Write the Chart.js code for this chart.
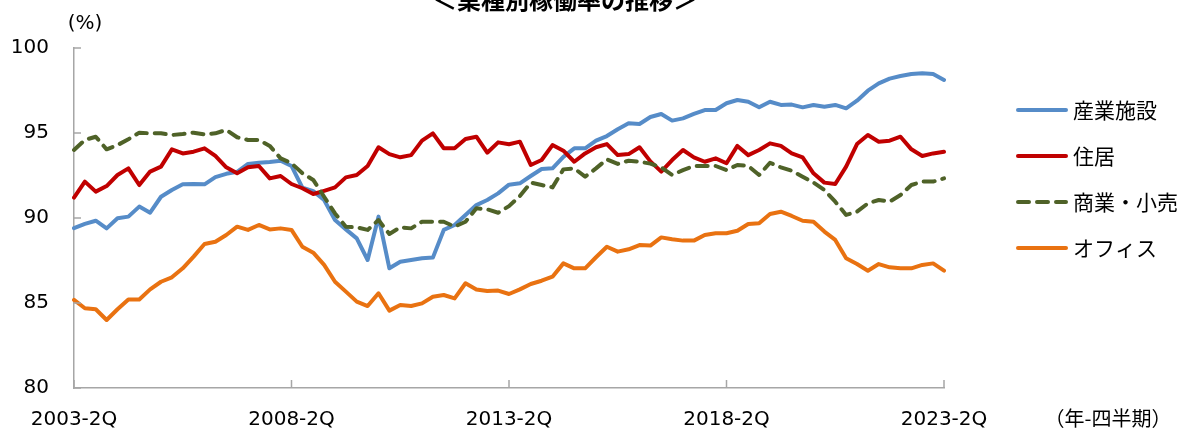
<!DOCTYPE html>
<html lang="ja">
<head>
<meta charset="utf-8">
<title>業種別稼働率の推移</title>
<script src="https://cdn.jsdelivr.net/npm/chart.js@4.4.1/dist/chart.umd.min.js"></script>
<style>
    html, body { margin: 0; padding: 0; background: #fff; }
    #chartBox { position: relative; width: 1196px; height: 430px; overflow: hidden; }
</style>
</head>
<body>
<div id="chartBox"><canvas id="rateChart" width="1196" height="430"></canvas></div>
<script>
const chartTitle = '＜業種別稼働率の推移＞';
const unitLabel = '(%)';
const periodLabel = '（年-四半期）';

// quarterly categories, 2003-2Q .. 2023-2Q
const startYear = 2003;
const startQuarter = 2;
const quarterCount = 81;
const quarters = [];
for (let i = 0; i < quarterCount; i++) {
    const q = startQuarter - 1 + i;
    quarters.push(`${startYear + Math.floor(q / 4)}-${q % 4 + 1}Q`);
}
const shownQuarters = ['2003-2Q', '2008-2Q', '2013-2Q', '2018-2Q', '2023-2Q'];
const yTicks = [80, 85, 90, 95, 100];

const seriesNames = ['産業施設', '住居', '商業・小売', 'オフィス'];

const industrial = [
    89.4, 89.65, 89.84, 89.39, 89.98, 90.08, 90.67, 90.31, 91.25, 91.65,
    91.98, 92.0, 91.98, 92.4, 92.6, 92.72, 93.18, 93.25, 93.3, 93.37,
    93.06, 91.78, 91.58, 91.06, 89.88, 89.33, 88.8, 87.53, 90.08, 87.04,
    87.43, 87.53, 87.63, 87.67, 89.3, 89.59, 90.18, 90.76, 91.06, 91.45,
    91.96, 92.04, 92.47, 92.88, 92.92, 93.6, 94.1, 94.1, 94.55, 94.82,
    95.22, 95.57, 95.53, 95.94, 96.12, 95.73, 95.86, 96.12, 96.35, 96.35,
    96.75, 96.94, 96.84, 96.51, 96.84, 96.65, 96.67, 96.51, 96.65, 96.55,
    96.65, 96.45, 96.9, 97.49, 97.92, 98.2, 98.35, 98.47, 98.51, 98.47,
    98.12
];
const residential = [
    91.2, 92.14, 91.55, 91.88, 92.53, 92.92, 91.94, 92.73, 93.02, 94.04,
    93.8, 93.9, 94.1, 93.65, 92.98, 92.63, 92.98, 93.06, 92.33, 92.47,
    92.0, 91.75, 91.41, 91.6, 91.8, 92.39, 92.53, 93.06, 94.16, 93.76,
    93.57, 93.7, 94.55, 94.98, 94.1, 94.1, 94.65, 94.78, 93.84, 94.45,
    94.34, 94.49, 93.12, 93.41, 94.29, 93.96, 93.31, 93.8, 94.16, 94.35,
    93.7, 93.76, 94.16, 93.33, 92.73, 93.41, 94.0, 93.57, 93.31, 93.51,
    93.22, 94.24, 93.7, 94.0, 94.39, 94.24, 93.8, 93.57, 92.63, 92.08,
    92.0, 93.02, 94.35, 94.88, 94.49, 94.55, 94.78, 94.04, 93.65, 93.8,
    93.9
];
const retail = [
    94.0, 94.59, 94.78, 94.04, 94.29, 94.63, 95.02, 94.98, 94.98, 94.88,
    94.94, 95.02, 94.92, 94.98, 95.18, 94.75, 94.59, 94.59, 94.24, 93.51,
    93.22, 92.63, 92.24, 91.25, 90.27, 89.49, 89.45, 89.3, 89.88, 89.06,
    89.45, 89.39, 89.78, 89.78, 89.78, 89.49, 89.78, 90.57, 90.51, 90.31,
    90.7, 91.29, 92.08, 91.94, 91.8, 92.86, 92.92, 92.43, 92.92, 93.45,
    93.18, 93.37, 93.31, 93.2, 92.98, 92.53, 92.82, 93.06, 93.06, 93.06,
    92.82, 93.12, 93.06, 92.53, 93.25, 92.98, 92.78, 92.43, 92.08, 91.65,
    90.96, 90.18, 90.37, 90.86, 91.06, 90.96, 91.35, 91.94, 92.14, 92.14,
    92.33
];
const office = [
    85.18, 84.69, 84.63, 84.0, 84.63, 85.21, 85.21, 85.8, 86.25, 86.51,
    87.04, 87.73, 88.47, 88.6, 89.0, 89.49, 89.3, 89.59, 89.33, 89.39,
    89.3, 88.31, 87.96, 87.24, 86.25, 85.67, 85.08, 84.82, 85.57, 84.55,
    84.88, 84.82, 84.98, 85.37, 85.47, 85.27, 86.16, 85.8, 85.7, 85.73,
    85.53, 85.8, 86.12, 86.31, 86.55, 87.33, 87.04, 87.04, 87.69, 88.31,
    88.02, 88.16, 88.41, 88.38, 88.86, 88.75, 88.67, 88.67, 89.0, 89.1,
    89.1, 89.25, 89.65, 89.69, 90.24, 90.37, 90.12, 89.84, 89.78, 89.2,
    88.71, 87.63, 87.29, 86.9, 87.29, 87.1, 87.04, 87.04, 87.24, 87.33,
    86.9
];

const axisColor = '#a6a6a6';
const numFont = 'DejaVu Sans';
const jpFont = '"Noto Sans CJK JP"';

function makeLine(label, data, color, order, dash) {
    return {
        label: label,
        data: data,
        borderColor: color,
        backgroundColor: color,
        borderWidth: 4,
        borderDash: dash || [],
        borderCapStyle: 'round',
        borderJoinStyle: 'round',
        pointRadius: 0,
        pointHoverRadius: 0,
        tension: 0,
        fill: false,
        order: order
    };
}

// Inside tick marks on both axes
const insideTicks = {
    id: 'insideTicks',
    afterDatasetsDraw(chart) {
        const ctx = chart.ctx;
        const x = chart.scales.x;
        const y = chart.scales.y;
        ctx.save();
        ctx.strokeStyle = axisColor;
        ctx.lineWidth = 1.5;
        ctx.beginPath();
        y.ticks.forEach(t => {
            const py = y.getPixelForValue(t.value);
            ctx.moveTo(x.left, py);
            ctx.lineTo(x.left + 7, py);
        });
        x.ticks.forEach(t => {
            const px = x.getPixelForValue(t.value);
            ctx.moveTo(px, y.bottom);
            ctx.lineTo(px, y.bottom - 8);
        });
        ctx.stroke();
        ctx.restore();
    }
};

// Title, unit labels and right-hand legend
const chartText = {
    id: 'chartText',
    afterDraw(chart) {
        const ctx = chart.ctx;
        ctx.save();
        ctx.fillStyle = '#000';

        ctx.font = `bold 24px ${jpFont}`;
        ctx.textAlign = 'center';
        ctx.textBaseline = 'alphabetic';
        ctx.fillText(chartTitle, 565, 9);

        ctx.textBaseline = 'middle';
        ctx.font = `20px ${numFont}`;
        ctx.fillText(unitLabel, 85, 24);

        ctx.font = `20px ${jpFont}`;
        ctx.fillText(periodLabel, 1108, 418);

        // legend
        ctx.textAlign = 'left';
        ctx.font = `21px ${jpFont}`;
        chart.data.datasets.forEach((ds, i) => {
            const ly = 110 + i * 46;
            ctx.save();
            ctx.strokeStyle = ds.borderColor;
            ctx.lineWidth = ds.borderWidth;
            ctx.lineCap = ds.borderCapStyle;
            ctx.setLineDash(ds.borderDash);
            ctx.beginPath();
            ctx.moveTo(1018, ly);
            ctx.lineTo(1066, ly);
            ctx.stroke();
            ctx.restore();
            ctx.fillText(ds.label, 1073, ly);
        });
        ctx.restore();
    }
};

const config = {
    type: 'line',
    data: {
        labels: quarters,
        datasets: [
            makeLine(seriesNames[0], industrial, '#568CC8', 3),
            makeLine(seriesNames[1], residential, '#C00000', 2),
            makeLine(seriesNames[2], retail, '#4F6228', 1, [11, 8]),
            makeLine(seriesNames[3], office, '#E97211', 0)
        ]
    },
    options: {
        responsive: false,
        animation: false,
        events: [],
        layout: {
            padding: { left: 0, top: 48, right: 252, bottom: 0 }
        },
        plugins: {
            legend: { display: false },
            title: { display: false },
            tooltip: { enabled: false }
        },
        scales: {
            x: {
                type: 'category',
                offset: false,
                grid: { display: false, drawTicks: false },
                border: { display: true, color: axisColor, width: 1.5 },
                afterBuildTicks: s => {
                    s.ticks = s.ticks.filter(t => shownQuarters.includes(quarters[t.value]));
                },
                afterFit: s => { s.height = 42; },
                ticks: {
                    autoSkip: false,
                    maxRotation: 0,
                    padding: 20,
                    color: '#000',
                    font: { family: numFont, size: 20 }
                }
            },
            y: {
                min: 80,
                max: 100,
                grid: { display: false, drawTicks: false },
                border: { display: true, color: axisColor, width: 1.5 },
                afterBuildTicks: s => {
                    s.ticks = yTicks.map(v => ({ value: v }));
                },
                afterFit: s => { s.width = 74; },
                ticks: {
                    padding: 25,
                    color: '#000',
                    font: { family: numFont, size: 20 }
                }
            }
        }
    },
    plugins: [insideTicks, chartText]
};

new Chart(document.getElementById('rateChart'), config);
</script>
</body>
</html>
